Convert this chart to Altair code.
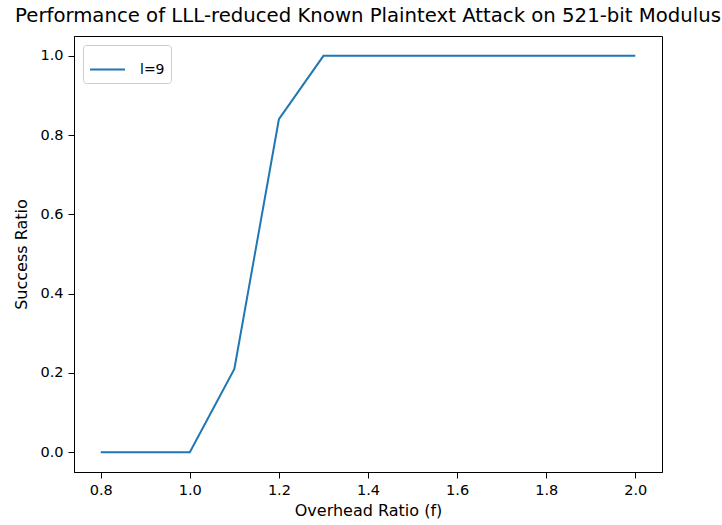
import altair as alt
import pandas as pd

overhead = [0.8, 0.9, 1.0, 1.1, 1.2, 1.3, 1.4, 1.5, 1.6, 1.7, 1.8, 1.9, 2.0]
success = [0.0, 0.0, 0.0, 0.21, 0.84, 1.0, 1.0, 1.0, 1.0, 1.0, 1.0, 1.0, 1.0]
series = ["l=9"] * len(overhead)

df = pd.DataFrame({"f": overhead, "ratio": success, "series": series})

FONT = "DejaVu Sans"

chart = alt.Chart(df).mark_line(strokeWidth=2, clip=False).encode(
    x=alt.X("f:Q", title="Overhead Ratio (f)",
            scale=alt.Scale(domain=[0.74, 2.06], nice=False, zero=False),
            axis=alt.Axis(values=[0.8, 1.0, 1.2, 1.4, 1.6, 1.8, 2.0], format=".1f",
                          grid=False, tickSize=6, labelPadding=5, titlePadding=6)),
    y=alt.Y("ratio:Q", title="Success Ratio",
            scale=alt.Scale(domain=[-0.05, 1.05], nice=False, zero=False),
            axis=alt.Axis(values=[0.0, 0.2, 0.4, 0.6, 0.8, 1.0], format=".1f",
                          grid=False, tickSize=6, labelPadding=5, titlePadding=10)),
    color=alt.Color("series:N", scale=alt.Scale(range=["#1f77b4"]),
                    legend=alt.Legend(title=None, orient="top-left", offset=9,
                                      symbolType="stroke", symbolStrokeWidth=2,
                                      symbolSize=1225, labelFontSize=14, labelFont=FONT,
                                      fillColor="white", strokeColor="#cccccc",
                                      cornerRadius=3, padding=6, labelOffset=14)),
).properties(
    width=588, height=436,
    title=alt.TitleParams("Performance of LLL-reduced Known Plaintext Attack on 521-bit Modulus",
                          font=FONT, fontSize=19.7, fontWeight="normal", color="black",
                          anchor="middle", offset=10),
    padding={"left": 74, "top": 36, "right": 60, "bottom": 53},
    autosize="none",
).configure_view(
    stroke="black", strokeWidth=1
).configure_axis(
    labelFont=FONT, titleFont=FONT, labelFontSize=14.5, titleFontSize=16,
    labelColor="black", titleColor="black", titleFontWeight="normal",
    domainColor="black", tickColor="black", domain=True
)

chart.save("out.html", embed_options={"renderer": "svg", "actions": False})
